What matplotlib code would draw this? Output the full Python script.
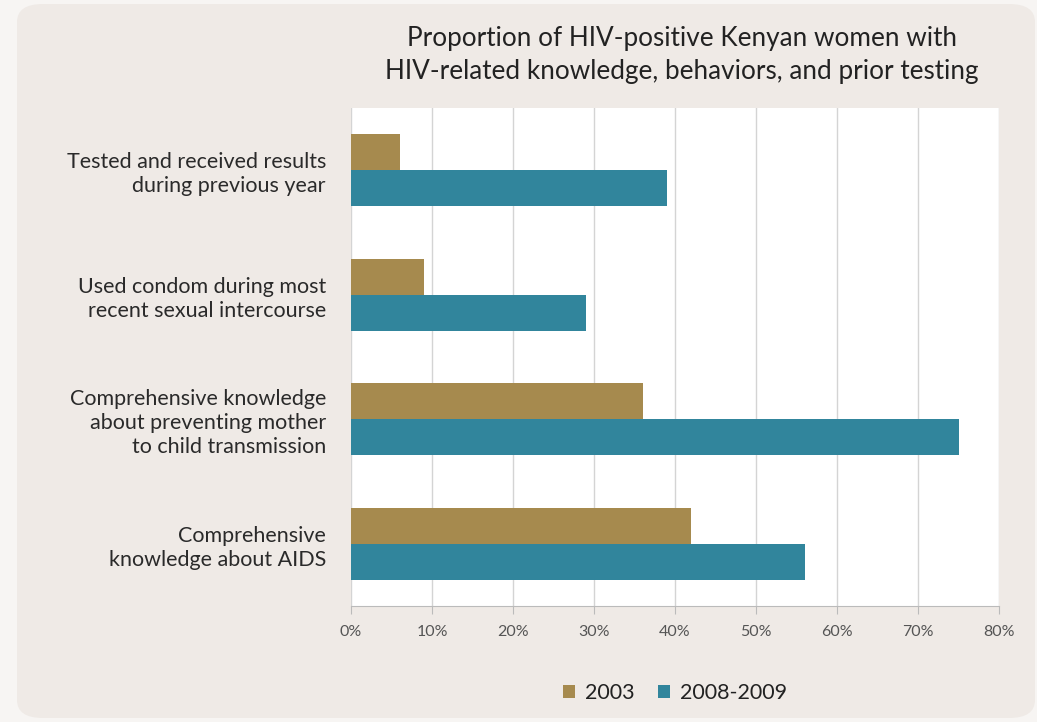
import matplotlib.pyplot as plt
import numpy as np
from matplotlib.patches import FancyBboxPatch

plt.rcParams['font.family'] = ['Lato', 'DejaVu Sans']

categories = ["Tested and received results\nduring previous year",
              "Used condom during most\nrecent sexual intercourse",
              "Comprehensive knowledge\nabout preventing mother\nto child transmission",
              "Comprehensive\nknowledge about AIDS"]
vals_2003 = [6, 9, 36, 42]
vals_2008 = [39, 29, 75, 56]
series_names = ["2003", "2008-2009"]
xticks = [0, 10, 20, 30, 40, 50, 60, 70, 80]

gold = '#a68a4e'
teal = '#31859c'

W, H = 1037, 722
fig = plt.figure(figsize=(W / 100, H / 100), dpi=100)
fig.patch.set_facecolor('#f7f5f3')

# rounded background panel
panel = FancyBboxPatch((17 / W, 4 / H), (1035 - 17) / W, (718 - 4) / H,
                       boxstyle="round,pad=0,rounding_size=0.025",
                       transform=fig.transFigure, facecolor='#efeae6',
                       edgecolor='none', zorder=-5)
fig.add_artist(panel)

ax = fig.add_axes([351 / W, 1 - 606 / H, (999 - 351) / W, (606 - 108) / H])
ax.set_facecolor('white')

y = np.arange(len(categories))
h = 0.29
ax.barh(y - h / 2, vals_2003, height=h, color=gold, label=series_names[0], zorder=3)
ax.barh(y + h / 2, vals_2008, height=h, color=teal, label=series_names[1], zorder=3)

ax.set_ylim(3.5, -0.5)
ax.set_xlim(0, 80)
ax.set_xticks(xticks)
ax.set_xticklabels([f"{t}%" for t in xticks], color='#555555', fontsize=11.5)
ax.set_yticks(y)
ax.set_yticklabels(categories, fontsize=15.5, color='#2a2a2a', linespacing=1.25)
ax.tick_params(axis='y', length=0, pad=18)
ax.tick_params(axis='x', length=6, color='#bbbbbb', pad=8)
ax.grid(axis='x', color='#d4d4d4', linewidth=1, zorder=0)
for s in ['top', 'right', 'left']:
    ax.spines[s].set_visible(False)
ax.spines['bottom'].set_color('#bbbbbb')

fig.text(682 / W, 1 - 55 / H,
         "Proportion of HIV-positive Kenyan women with\nHIV-related knowledge, behaviors, and prior testing",
         ha='center', va='center', fontsize=18.8, color='#222222', linespacing=1.4)

leg = ax.legend(loc='center', bbox_to_anchor=(0.5, -0.175), ncol=2, frameon=False,
                fontsize=15.5, handlelength=0.55, handleheight=0.55, columnspacing=1.1,
                handletextpad=0.45)
for t in leg.get_texts():
    t.set_color('#222222')

plt.savefig('out.png', dpi=100, facecolor=fig.get_facecolor())
